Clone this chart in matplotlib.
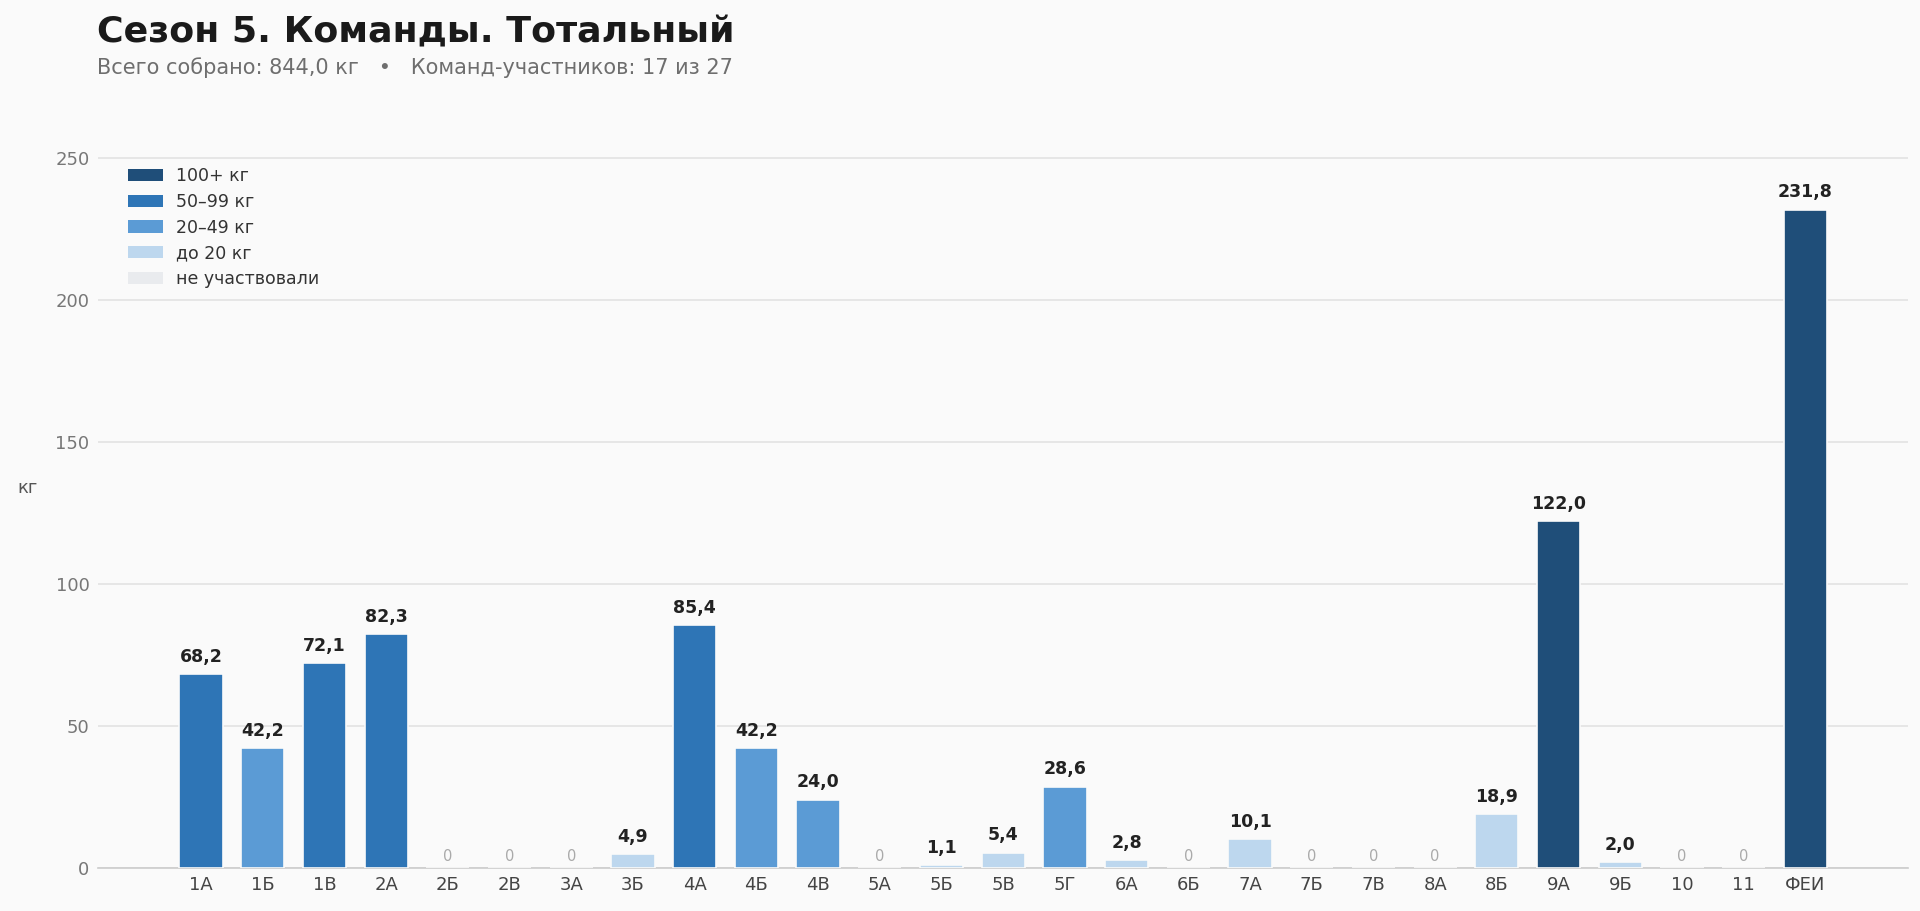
import matplotlib
matplotlib.use("Agg")
import matplotlib.pyplot as plt
from matplotlib.patches import Patch

teams = ["1А", "1Б", "1В", "2А", "2Б", "2В", "3А", "3Б", "4А", "4Б", "4В",
         "5А", "5Б", "5В", "5Г", "6А", "6Б", "7А", "7Б", "7В", "8А", "8Б",
         "9А", "9Б", "10", "11", "ФЕИ"]
values = [68.2, 42.2, 72.1, 82.3, 0, 0, 0, 4.9, 85.4, 42.2, 24.0,
          0, 1.1, 5.4, 28.6, 2.8, 0, 10.1, 0, 0, 0, 18.9,
          122.0, 2.0, 0, 0, 231.8]

legend_labels = ["100+ кг", "50–99 кг", "20–49 кг", "до 20 кг", "не участвовали"]
legend_colors = ["#1f4e79", "#2e75b6", "#5b9bd5", "#bdd7ee", "#e9ebee"]

title = "Сезон 5. Команды. Тотальный"
subtitle = "Всего собрано: 844,0 кг   •   Команд-участников: 17 из 27"

BG = "#fafafa"


def color_for(v):
    if v >= 100:
        return legend_colors[0]
    if v >= 50:
        return legend_colors[1]
    if v >= 20:
        return legend_colors[2]
    if v > 0:
        return legend_colors[3]
    return legend_colors[4]


def fmt(v):
    return ("%.1f" % v).replace(".", ",")


plt.rcParams['font.family'] = ['DejaVu Sans']
fig = plt.figure(figsize=(19.2, 9.11), dpi=100, facecolor=BG)
ax = fig.add_axes([0.051, 0.0472, 0.943, 0.8138], facecolor=BG)

x = list(range(len(teams)))
colors = [color_for(v) for v in values]
bars = ax.bar(x, values, width=0.7, color=colors, edgecolor=BG, linewidth=1.2, zorder=3)

for xi, v in zip(x, values):
    if v > 0:
        ax.annotate(fmt(v), (xi, v), xytext=(0, 6), textcoords="offset points",
                    ha="center", va="bottom", fontsize=12.5, fontweight="bold",
                    color="#222222", zorder=4)
    else:
        ax.annotate("0", (xi, 0), xytext=(0, 5), textcoords="offset points",
                    ha="center", va="baseline", fontsize=10.5, color="#aaaaaa",
                    zorder=4)

ax.set_xlim(-1.67, len(teams) - 1 + 1.67)
ax.set_ylim(0, 261)
ax.set_yticks([0, 50, 100, 150, 200, 250])
ax.set_xticks(x)
ax.set_xticklabels(teams)
ax.tick_params(axis="x", length=0, pad=6, labelsize=13, labelcolor="#444444")
ax.tick_params(axis="y", length=0, pad=6, labelsize=13, labelcolor="#777777")
ax.grid(axis="y", color="#e4e4e4", linewidth=1.3, zorder=0)
ax.set_axisbelow(True)
for s in ["top", "right", "left"]:
    ax.spines[s].set_visible(False)
ax.spines["bottom"].set_color("#cccccc")
ax.spines["bottom"].set_linewidth(1.2)

ax.set_ylabel("кг", rotation=0, fontsize=13, color="#555555")
ax.yaxis.set_label_coords(-0.039, 0.5)

handles = [Patch(facecolor=c, edgecolor="none") for c in legend_colors]
leg = ax.legend(handles, legend_labels, loc="upper left", bbox_to_anchor=(0.013, 0.955),
                frameon=False, fontsize=12.5, handlelength=2.0, handleheight=0.7,
                labelspacing=0.45, handletextpad=0.75, borderaxespad=0)
for t in leg.get_texts():
    t.set_color("#333333")

fig.text(0.0505, 0.9539, title, fontsize=26.2, fontweight="bold", color="#1a1a1a",
         ha="left", va="baseline")
fig.text(0.0505, 0.9188, subtitle, fontsize=15, color="#6e6e6e",
         ha="left", va="baseline")

fig.savefig("out.png", dpi=100, facecolor=BG)
